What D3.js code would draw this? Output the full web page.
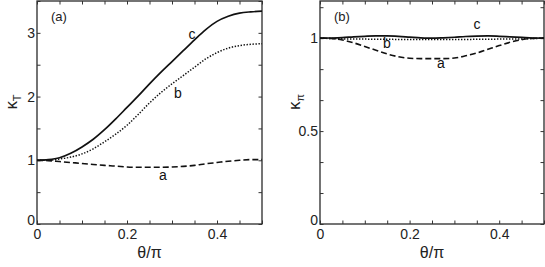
<!DOCTYPE html>
<html>
<head>
<meta charset="utf-8">
<script src="https://cdn.jsdelivr.net/npm/d3@7"></script>
<style>
  body { margin: 0; background: #fff; }
  svg { display: block; font-family: "Liberation Sans", Arial, sans-serif; }
  .domain { stroke: #333; }
  .tick line { stroke: #333; }
  .tick text { font-size: 14px; fill: #222; }
</style>
</head>
<body>
<div id="chart"></div>
<script>
// theta/pi sample positions
var theta = [0, 0.025, 0.05, 0.075, 0.1, 0.125, 0.15, 0.175, 0.2, 0.225, 0.25,
  0.275, 0.3, 0.325, 0.35, 0.375, 0.4, 0.425, 0.45, 0.475, 0.5];

// panel (a): kappa_T
var kT_a = [1.00, 0.995, 0.98, 0.965, 0.95, 0.935, 0.92, 0.91, 0.895, 0.89, 0.89,
  0.89, 0.895, 0.905, 0.92, 0.945, 0.965, 0.985, 1.0, 1.01, 1.01];
var kT_b = [1.00, 1.00, 1.02, 1.05, 1.10, 1.18, 1.29, 1.41, 1.55, 1.72, 1.90,
  2.06, 2.20, 2.33, 2.46, 2.59, 2.69, 2.76, 2.80, 2.82, 2.83];
var kT_c = [1.00, 1.01, 1.04, 1.11, 1.21, 1.33, 1.48, 1.65, 1.83, 2.01, 2.20,
  2.38, 2.55, 2.72, 2.89, 3.05, 3.18, 3.26, 3.31, 3.33, 3.34];

// panel (b): kappa_pi
var kP_a = [1.00, 0.998, 0.99, 0.975, 0.955, 0.935, 0.915, 0.90, 0.892, 0.89, 0.89,
  0.89, 0.893, 0.905, 0.92, 0.94, 0.96, 0.978, 0.992, 0.999, 1.00];
var kP_b = [1.00, 0.998, 0.996, 0.995, 0.995, 0.994, 0.994, 0.993, 0.993, 0.993, 0.993,
  0.993, 0.993, 0.993, 0.994, 0.994, 0.995, 0.995, 0.996, 0.998, 1.00];
var kP_c = [1.00, 1.001, 1.003, 1.007, 1.010, 1.012, 1.012, 1.010, 1.006, 1.002, 1.00,
  1.002, 1.005, 1.009, 1.011, 1.012, 1.010, 1.007, 1.004, 1.001, 1.00];

var xMajor = [0, 0.2, 0.4];
var xTicks = [0, 0.05, 0.1, 0.15, 0.2, 0.25, 0.3, 0.35, 0.4, 0.45, 0.5];
var yTicksA = [0, 0.5, 1, 1.5, 2, 2.5, 3, 3.5];
var yMajorA = [0, 1, 2, 3];
var yTicksB = [0, 1/6, 2/6, 0.5, 4/6, 5/6, 1, 7/6];
var yMajorB = [0, 0.5, 1];

var svgWidth = 545;
var svgHeight = 267;

var svg = d3.select("#chart")
  .append("svg")
  .attr("width", svgWidth)
  .attr("height", svgHeight);

// draw one panel
function drawPanel(opt) {
  var x = d3.scaleLinear().domain([0, 0.5]).range([opt.left, opt.right]);
  var y = d3.scaleLinear().domain([0, opt.yMax]).range([opt.bottom, opt.top]);
  var g = svg.append("g");

  // frame
  g.append("rect")
    .attr("x", opt.left).attr("y", opt.top)
    .attr("width", opt.right - opt.left).attr("height", opt.bottom - opt.top)
    .attr("fill", "none").attr("stroke", "#2a2a2a").attr("stroke-width", 1.3);

  var fmt = function(d) {
    return d === 0 ? "0" : d3.format(".1f")(d);
  };

  // ticks pointing inward, on all four sides
  g.append("g")
    .attr("transform", `translate(0, ${opt.bottom})`)
    .call(d3.axisBottom(x).tickValues(xTicks).tickSize(-3.5).tickFormat(""))
    .call(a => a.select(".domain").remove());
  g.append("g")
    .attr("transform", `translate(0, ${opt.top})`)
    .call(d3.axisTop(x).tickValues(xTicks).tickSize(-3.5).tickFormat(""))
    .call(a => a.select(".domain").remove());
  g.append("g")
    .attr("transform", `translate(${opt.left}, 0)`)
    .call(d3.axisLeft(y).tickValues(opt.yTicks).tickSize(-3.5).tickFormat(""))
    .call(a => a.select(".domain").remove());
  g.append("g")
    .attr("transform", `translate(${opt.right}, 0)`)
    .call(d3.axisRight(y).tickValues(opt.yTicks).tickSize(-3.5).tickFormat(""))
    .call(a => a.select(".domain").remove());

  // tick labels
  g.append("g")
    .attr("transform", `translate(0, ${opt.bottom})`)
    .call(d3.axisBottom(x).tickValues(xMajor).tickSize(0).tickPadding(5).tickFormat(fmt))
    .call(a => a.select(".domain").remove());
  g.append("g")
    .attr("transform", `translate(${opt.left}, 0)`)
    .call(d3.axisLeft(y).tickValues(opt.yMajor).tickSize(0).tickPadding(2)
      .tickFormat(d => d === 0 ? "0" : (d % 1 === 0 ? d : d3.format(".1f")(d))))
    .call(a => a.select(".domain").remove())
    .selectAll(".tick text")
    .attr("dy", d => d === 0 ? "0.05em" : "0.32em");

  // axis titles
  g.append("text")
    .attr("x", (opt.left + opt.right) / 2)
    .attr("y", 258)
    .attr("text-anchor", "middle")
    .attr("font-size", 16)
    .attr("fill", "#222")
    .text("θ/π");

  var yt = g.append("text")
    .attr("transform", `translate(${opt.left - 20}, 102) rotate(-90)`)
    .attr("text-anchor", "middle")
    .attr("font-size", 17)
    .attr("fill", "#222");
  yt.append("tspan").text("κ");
  yt.append("tspan").attr("font-size", 11).attr("dy", 4).text(opt.sub);

  g.append("text")
    .attr("x", opt.left + 14)
    .attr("y", opt.top + 20)
    .attr("font-size", 13)
    .attr("fill", "#222")
    .text(opt.tag);

  // curves
  var line = function(vals) {
    return d3.line()
      .x((d, i) => x(theta[i]))
      .y(d => y(d))
      .curve(d3.curveMonotoneX)(vals);
  };
  var styles = [
    { vals: opt.a, dash: "6,3", width: 1.6 },
    { vals: opt.b, dash: "1.4,1.6", width: 1.5 },
    { vals: opt.c, dash: null, width: 1.7 }
  ];
  styles.forEach(function(s) {
    g.append("path")
      .attr("d", line(s.vals))
      .attr("fill", "none")
      .attr("stroke", "#111")
      .attr("stroke-width", s.width)
      .attr("stroke-dasharray", s.dash);
  });

  // curve labels
  opt.labels.forEach(function(l) {
    g.append("text")
      .attr("x", l.x).attr("y", l.y)
      .attr("text-anchor", "middle")
      .attr("font-size", 14)
      .attr("fill", "#111")
      .text(l.t);
  });
}

drawPanel({
  left: 37, right: 262, top: 1, bottom: 224, yMax: 3.5,
  yTicks: yTicksA, yMajor: yMajorA, sub: "T", tag: "(a)",
  a: kT_a, b: kT_b, c: kT_c,
  labels: [{ t: "c", x: 192, y: 39 }, { t: "b", x: 178, y: 98 }, { t: "a", x: 163, y: 180 }]
});

drawPanel({
  left: 320, right: 544, top: 1, bottom: 224, yMax: 1.2,
  yTicks: yTicksB, yMajor: yMajorB, sub: "π", tag: "(b)",
  a: kP_a, b: kP_b, c: kP_c,
  labels: [{ t: "c", x: 477, y: 29 }, { t: "b", x: 387, y: 48 }, { t: "a", x: 441, y: 68 }]
});
</script>
</body>
</html>
